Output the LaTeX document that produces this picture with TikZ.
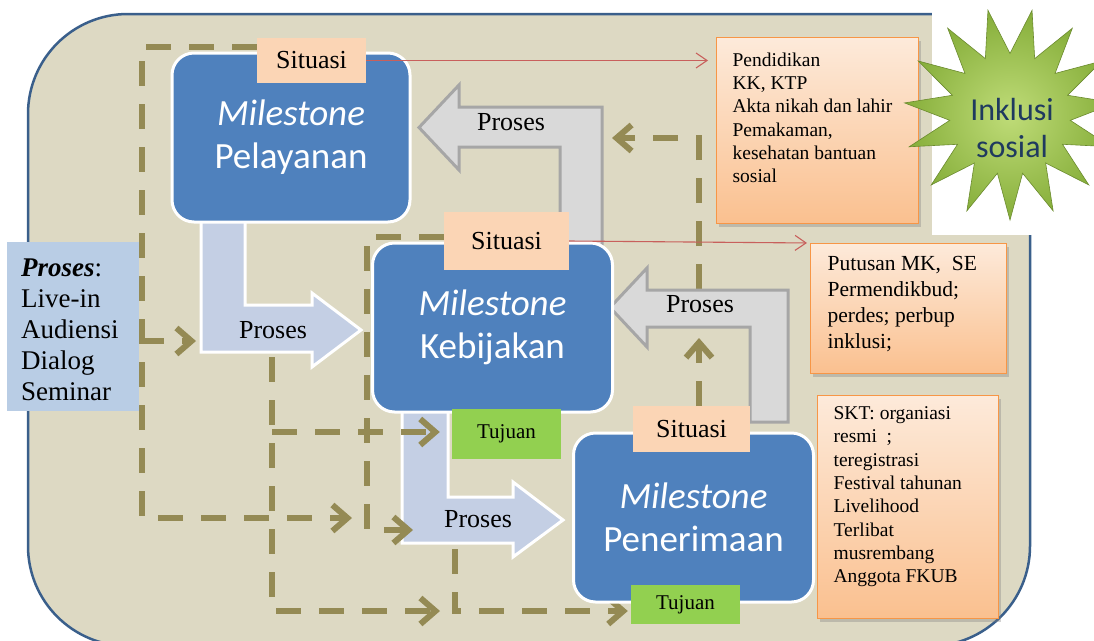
\documentclass[tikz,border=0pt]{standalone}
\usepackage{fontspec}
\setmainfont{Liberation Serif}
\newfontfamily\calibri{Carlito}
\usepackage{tikz}
\usetikzlibrary{arrows.meta,shapes.geometric,shadows}
\definecolor{bgtan}{HTML}{DDD9C3}
\definecolor{bgline}{HTML}{3A5F8B}
\definecolor{msblue}{HTML}{4F81BD}
\definecolor{peach}{HTML}{FBD5B5}
\definecolor{leaf}{HTML}{92D050}
\definecolor{paleblue}{HTML}{B9CDE5}
\definecolor{flowblue}{HTML}{C4CFE4}
\definecolor{flowgray}{HTML}{D9D9D9}
\definecolor{flowedge}{HTML}{A6A6A6}
\definecolor{dashol}{HTML}{948A54}
\definecolor{linkred}{HTML}{C8605C}
\definecolor{orTop}{HTML}{FDEADA}
\definecolor{orBot}{HTML}{FAC08F}
\definecolor{orEdge}{HTML}{F79646}
\definecolor{starIn}{HTML}{BFDC78}
\definecolor{starOut}{HTML}{86AE3A}
\definecolor{inkNavy}{HTML}{1F3A5F}
\pgfdeclarelayer{base}
\pgfdeclarelayer{blueflow}
\pgfdeclarelayer{dashes}
\pgfdeclarelayer{grayflow}
\pgfsetlayers{base,blueflow,dashes,grayflow,main}

\begin{document}
\begin{tikzpicture}[x=1pt, y=-1pt,
      milestone/.style={draw=white, line width=3pt, fill=msblue, rounded corners=22pt,
                  text=white, align=center, inner sep=0pt, minimum width=240pt,
                  minimum height=169pt, font=\calibri\fontsize{37}{43}\selectfont},
      situasi/.style={fill=peach, inner sep=0pt, font=\fontsize{26}{30}\selectfont},
      tujuan/.style={fill=leaf, inner sep=0pt, minimum width=109pt,
                  font=\fontsize{21}{25}\selectfont},
      infobox/.style={draw=orEdge, line width=1.2pt, top color=orTop, bottom color=orBot,
                  drop shadow={shadow xshift=2pt, shadow yshift=-3pt, opacity=0.35},
                  anchor=north west, font=\fontsize{19.5}{23.3}\selectfont},
      bigblue/.style={fill=flowblue, draw=white, line width=3pt},
      biggray/.style={fill=flowgray, draw=flowedge, line width=3pt},
      flowtext/.style={font=\fontsize{26}{30}\selectfont},
      dline/.style={draw=dashol, line width=6pt, dash pattern=on 25pt off 18pt,
                  -{Straight Barb[length=15pt,width=26pt]}},
      redarr/.style={draw=linkred, line width=1.1pt, -{Straight Barb[length=11pt,width=15pt]}}]
    \useasboundingbox (0,0) rectangle (1094,640);
    \clip (0,0) rectangle (1094,640);

    \node[milestone, minimum width=238pt] (pel) at (291,137.5) {\textit{Milestone}\\Pelayanan};
    \node[milestone] (keb) at (492.5,327.5) {\textit{Milestone}\\Kebijakan};
    \node[milestone] (pen) at (693.5,517.5) {\textit{Milestone}\\Penerimaan};

    \node[situasi, minimum width=109pt, minimum height=45pt] (sitP) at (311.5,60.5) {Situasi};
    \node[situasi, minimum width=125pt, minimum height=58pt] (sitK) at (506.5,241) {Situasi};
    \node[situasi, minimum width=117pt, minimum height=46pt] (sitR) at (691.5,429) {Situasi};
    \node[tujuan, minimum height=50pt] (tujK) at (506.5,434) {Tujuan};
    \node[tujuan, minimum height=39pt] (tujP) at (685.5,604.5) {Tujuan};

    \node[fill=paleblue, inner xsep=14pt, inner ysep=17pt, anchor=north west,
          font=\fontsize{27}{31}\selectfont] (proc) at (7,242)
        {\parbox[c][135pt][t]{104pt}{\raggedright\textbf{\textit{Proses}}:\\Live-in\\Audiensi\\Dialog\\Seminar}};

    \node[infobox, inner xsep=16pt, inner ysep=15pt] (pend) at (716,37)
        {\parbox[c][156pt][t]{170pt}{\raggedright Pendidikan\\KK, KTP\\Akta nikah dan lahir\\Pemakaman,\\kesehatan bantuan\\sosial}};
    \node[infobox, inner xsep=17pt, inner ysep=12.8pt, font=\fontsize{21.5}{26}\selectfont] (putusan) at (810,243)
        {\parbox[c][104.4pt][t]{162pt}{\raggedright Putusan MK,~ SE\\Permendikbud;\\perdes; perbup\\inklusi;}};
    \node[infobox, inner xsep=16pt, inner ysep=11pt] (skt) at (817,395)
        {\parbox[c][201pt][t]{149pt}{\raggedright SKT: organiasi\\resmi~~;\\teregistrasi\\Festival tahunan\\Livelihood\\Terlibat\\musrembang\\Anggota FKUB}};

    \draw[redarr, shorten >=8pt] (sitP.east) -- (sitP.east -| pend.west);
    \draw[redarr, shorten >=3pt] (sitK.east) -- (putusan.north west);

    \node[star, star points=15, star point ratio=1.75, minimum size=212pt, inner sep=0pt,
          shape border rotate=-12, inner color=starIn, outer color=starOut,
          draw=starOut!80!black, line width=0.6pt] (burst) at (1010,114) {};
    \node[text=inkNavy, align=center, font=\calibri\fontsize{32}{37}\selectfont] (incl) at (1012,128) {Inklusi\\sosial};

    \begin{pgfonlayer}{base}
      \draw[fill=bgtan, draw=bgline, line width=2.5pt, rounded corners=100pt] (28,14) rectangle (1030,646);
      \fill[white] (932,0) rectangle (1094,235);
    \end{pgfonlayer}

    \begin{pgfonlayer}{blueflow}
      \draw[bigblue] (201,215) -- (245,215) -- (245,305) -- (312,305) -- (312,293) -- (361,330)
        -- (312,367) -- (312,352) -- (201,352) -- cycle;
      \node[flowtext] (procA) at (273,330) {Proses};
      \draw[bigblue] (402,400) -- (448,400) -- (448,497) -- (513,497) -- (513,482) -- (563,520)
        -- (513,557) -- (513,543) -- (402,543) -- cycle;
      \node[flowtext] (procB) at (478,519) {Proses};
    \end{pgfonlayer}

    \begin{pgfonlayer}{dashes}
      \coordinate (o1) at (142,47);
      \coordinate (o2) at (142,518);
      \coordinate (o3) at (352,518);
      \coordinate (b1) at (196,341);
      \coordinate (k1) at (367,237);
      \coordinate (k2) at (367,530);
      \coordinate (k3) at (413,530);
      \coordinate (g1) at (272,357);
      \coordinate (g2) at (272,611);
      \coordinate (g3) at (440,611);
      \coordinate (g4) at (272,432);
      \coordinate (h1) at (455,549);
      \coordinate (h2) at (455,611);
      \coordinate (r1) at (699,338);
      \coordinate (r2) at (699,289);
      \coordinate (r3) at (699,138);
      \coordinate (r4) at (612,138);
      \draw[dline] (sitP.west |- o1) -- (o1) -- (o2) -- (o3);
      \draw[dline] (proc.east |- b1) -- (b1);
      \draw[dline] (sitK.west |- k1) -- (k1) -- (k2) -- (k3);
      \draw[dline] (g1) -- (g2) -- (g3);
      \draw[dline, shorten >=12pt] (g4) -- (g4 -| tujK.west);
      \draw[dline, shorten >=3pt] (h1) -- (h2) -- (h2 -| tujP.west);
      \draw[dline] (sitR.north -| r1) -- (r1);
      \draw[dline] (r2) -- (r3) -- (r4);
    \end{pgfonlayer}

    \begin{pgfonlayer}{grayflow}
      \draw[biggray] (560,247) -- (560,147) -- (459,147) -- (459,170) -- (419,127.5) -- (459,85)
        -- (459,107) -- (602,107) -- (602,247) -- cycle;
      \node[flowtext] (procC) at (511,122) {Proses};
      \draw[biggray] (750,422) -- (750,327) -- (647,327) -- (647,347) -- (610,307.5) -- (647,268)
        -- (647,290) -- (788,290) -- (788,422) -- cycle;
      \node[flowtext] (procD) at (700,304) {Proses};
    \end{pgfonlayer}
  \end{tikzpicture}
\end{document}
